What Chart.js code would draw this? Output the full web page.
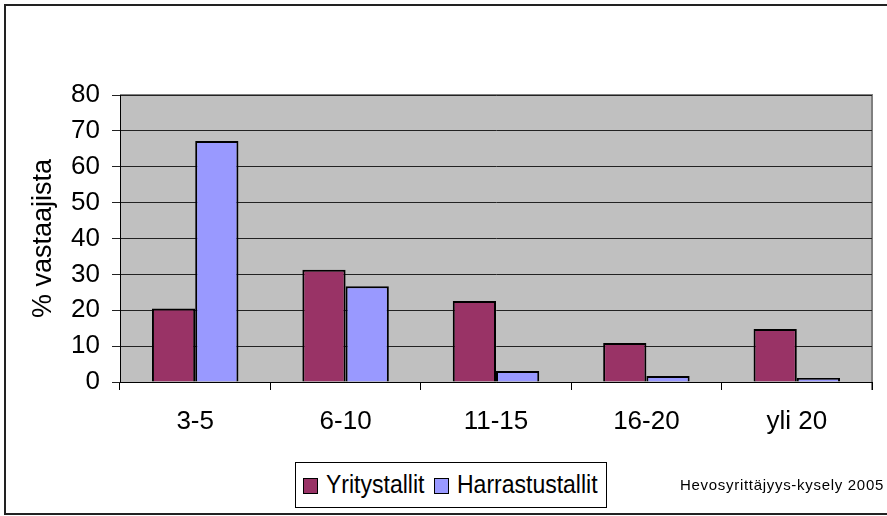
<!DOCTYPE html>
<html>
<head>
<meta charset="utf-8">
<script src="https://cdn.jsdelivr.net/npm/chart.js@4"></script>
<style>
  body { margin: 0; background: #fff; font-family: "Liberation Sans", Arial, sans-serif; }
  #wrap { position: relative; width: 887px; height: 516px; }
  #legend {
    position: absolute; left: 295px; top: 462px; width: 310px; height: 44px;
    border: 1px solid #000; background: #fff; font-size: 25px; color: #000;
  }
  #legend span { position: absolute; top: 7px; transform: scaleX(0.92); transform-origin: left center; white-space: nowrap; }
  #legend i { position: absolute; top: 15px; width: 13px; height: 14px; border: 1px solid #000; }
  #source { position: absolute; left: 680px; top: 476px; font-size: 15px; letter-spacing: 0.7px; color: #000; white-space: nowrap; }
</style>
</head>
<body>
<div id="wrap">
  <canvas id="chart" width="887" height="516"></canvas>
  <div id="legend">
    <i style="left:7px;background:#993366"></i><span style="left:30px">Yritystallit</span>
    <i style="left:138px;background:#9999FF"></i><span style="left:161px">Harrastustallit</span>
  </div>
  <div id="source">Hevosyrittäjyys-kysely 2005</div>
</div>
<script>
// Data
const categories = ["3-5", "6-10", "11-15", "16-20", "yli 20"];
const yritystallit = [20.5, 31.3, 22.6, 10.9, 14.8];
const harrastustallit = [67.2, 26.7, 3.1, 1.7, 1.1];

// Plot background, border and outer frame
const backdrop = {
  id: "backdrop",
  beforeDraw(chart) {
    const { ctx, chartArea: a } = chart;
    ctx.save();
    ctx.fillStyle = "#C0C0C0";
    ctx.fillRect(a.left, a.top, a.right - a.left, a.bottom - a.top);
    ctx.strokeStyle = "#808080";
    ctx.lineWidth = 2;
    ctx.beginPath();
    ctx.moveTo(a.left, a.top);
    ctx.lineTo(a.right, a.top);
    ctx.lineTo(a.right, a.bottom + 8);
    ctx.stroke();
    ctx.strokeStyle = "#222";
    ctx.lineWidth = 2;
    ctx.beginPath();
    ctx.moveTo(887, 5);
    ctx.lineTo(5, 5);
    ctx.lineTo(5, 514);
    ctx.lineTo(887, 514);
    ctx.stroke();
    ctx.restore();
  }
};

const ctx = document.getElementById("chart").getContext("2d");
new Chart(ctx, {
  type: "bar",
  data: {
    labels: categories,
    datasets: [
      { label: "Yritystallit", data: yritystallit, backgroundColor: "#993366", borderColor: "#000", borderWidth: 2 },
      { label: "Harrastustallit", data: harrastustallit, backgroundColor: "#9999FF", borderColor: "#000", borderWidth: 2 }
    ]
  },
  options: {
    responsive: false,
    animation: false,
    categoryPercentage: 0.575,
    barPercentage: 1,
    layout: { padding: { top: 95, right: 15, left: 5, bottom: 0 } },
    plugins: { legend: { display: false }, tooltip: { enabled: false } },
    scales: {
      x: {
        offset: true,
        afterFit: s => { s.height = 134; },
        grid: { offset: true, drawOnChartArea: false, color: "#000", tickLength: 8 },
        border: { color: "#000" },
        ticks: { color: "#000", padding: 16, font: { family: "Liberation Sans", size: 26 } }
      },
      y: {
        min: 0,
        max: 80,
        afterFit: s => { s.width = 115; },
        ticks: { stepSize: 10, color: "#000", padding: 12, font: { family: "Liberation Sans", size: 26 } },
        grid: { color: "#222", tickLength: 8 },
        border: { color: "#000" },
        title: {
          display: true,
          text: "% vastaajista",
          color: "#000",
          padding: { top: 22 },
          font: { family: "Liberation Sans", size: 27, weight: "normal" }
        }
      }
    }
  },
  plugins: [backdrop]
});
</script>
</body>
</html>
